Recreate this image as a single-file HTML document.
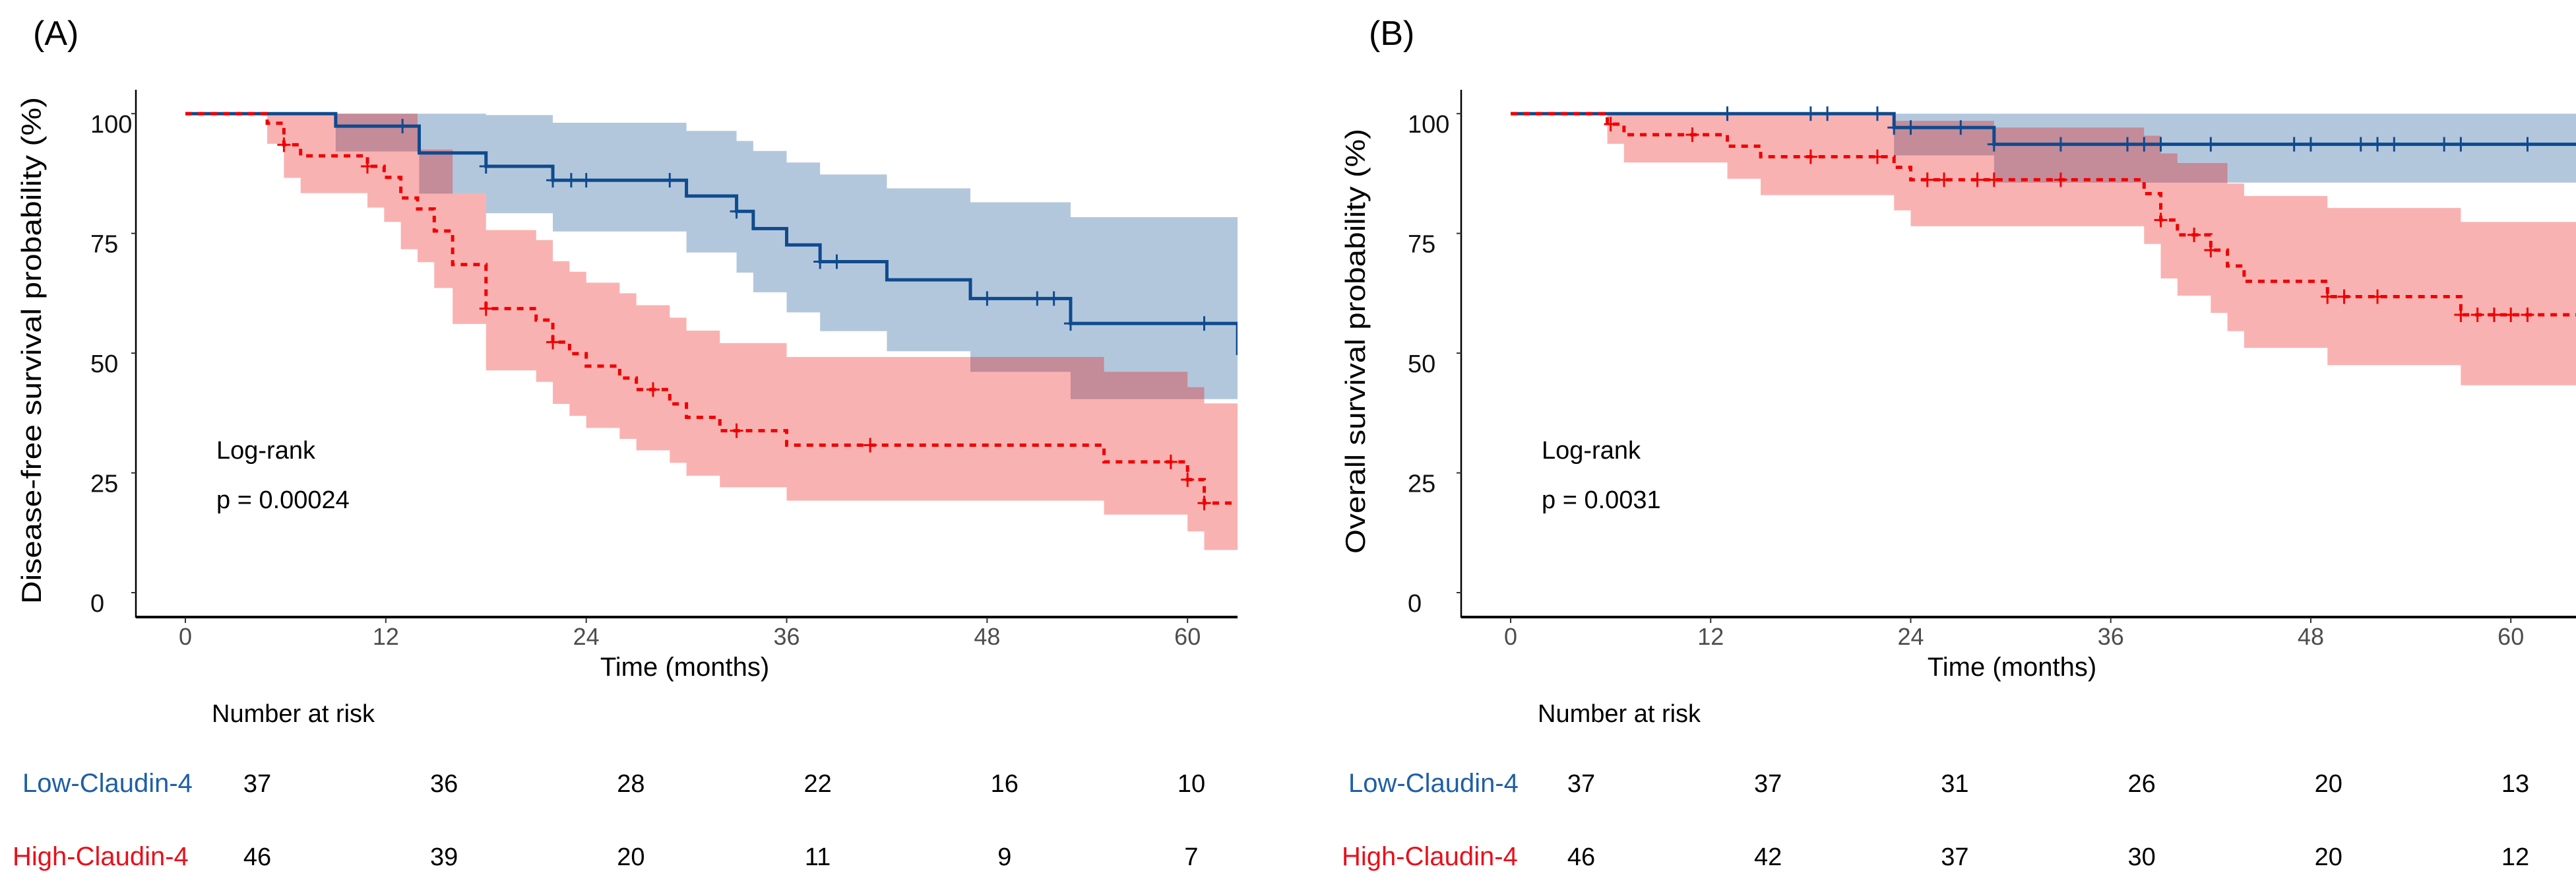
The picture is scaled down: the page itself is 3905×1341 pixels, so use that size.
<!DOCTYPE html>
<html><head><meta charset="utf-8"><style>
html,body{margin:0;padding:0;background:#fff;}
svg{display:block;font-family:"Liberation Sans",Arial,sans-serif;}
</style></head><body>
<svg id="chart" width="3905" height="1341" viewBox="0 0 3905 1341" xmlns="http://www.w3.org/2000/svg">
<rect width="3905" height="1341" fill="#fff"/>
<g id="root"></g>
</svg>
<script>
// ===== Data =====
const xTicks = [0,12,24,36,48,60];
const yTicks = [0,25,50,75,100];
// Panel A (DFS)
const aBlueT = [0,9,14,18,22,30,33,34,36,38,42,47,53,63];
const aBlueS = [100,97.4,91.8,89.0,86.1,82.8,79.6,76.0,72.6,69.1,65.3,61.4,56.2,49.6];
const aBlueBandT = [0,9,14,18,22,30,33,34,36,38,42,47,53];
const aBlueUp = [100,100,100,99.7,98.1,96.4,94.3,92.2,89.8,87.3,84.4,81.5,78.4];
const aBlueLo = [100,92.1,83.3,79.2,75.4,71.0,66.8,62.7,58.5,54.6,50.4,46.1,40.4];
const aBlueCens = [13,18,22,23.1,24,29,33,38,39,48,51,52,53,61];
const aRedT = [0,4.9,5.9,6.9,10.9,11.9,12.9,13.9,14.9,16,18,21,22,23,24,26,27,29,30,32,36,55,60,61];
const aRedS = [100,98.0,93.5,91.2,89.0,86.7,82.4,80.1,75.5,68.5,59.3,56.9,52.3,49.9,47.3,44.8,42.4,39.4,36.6,33.8,30.8,27.3,23.6,18.7];
const aRedUp = [100,100,100,100,100,100,100,92.5,92.5,83.3,75.7,73.6,69.2,67.0,64.7,62.5,60.0,57.4,54.7,52.1,49.2,46.1,42.9,39.5];
const aRedLo = [100,93.7,86.6,83.4,80.4,77.4,71.7,69.0,63.6,56.1,46.4,44.0,39.4,36.9,34.4,32.1,29.7,27.1,24.4,22.0,19.2,16.3,12.8,8.9];
const aRedCens = [5.9,10.9,18,22,28,33,41,59,60,61];
const aRiskLow = [37,36,28,22,16,10];
const aRiskHigh = [46,39,20,11,9,7];
// Panel B (OS)
const bBlueT = [0,23,29];
const bBlueS = [100,97.1,93.6];
const bBlueUp = [100,100,100];
const bBlueLo = [100,91.3,85.6];
const bBlueCens = [13,18,19,22,23,24,27,29,33,37,38,39,42,47,48,51,52,53,56,57,61];
const bRedT = [0,5.8,6.8,13,15,23,24,29,38,39,40,42,43,44,49,57];
const bRedS = [100,97.8,95.6,93.2,91.0,88.8,86.2,86.2,83.3,77.8,74.7,71.5,68.2,65.0,61.8,58.0];
const bRedUp = [100,100,100,100,100,98.5,98.5,97.1,95.4,91.7,89.7,89.7,85.4,82.8,80.3,77.4];
const bRedLo = [100,93.7,89.8,86.4,83.0,79.8,76.5,76.5,72.8,65.6,62.0,58.4,54.6,51.1,47.5,43.3];
const bRedCens = [6,10.9,18,22,25,26,28,29,33,39,41,42,49,50,52,57,58,59,60,61];
const bRiskLow = [37,37,31,26,20,13];
const bRiskHigh = [46,42,37,30,20,12];

// ===== Drawing =====
const NS = "http://www.w3.org/2000/svg";
const root = document.getElementById('root');
function el(tag, attrs, parent, text){
  const e = document.createElementNS(NS, tag);
  for (const k in attrs) e.setAttribute(k, attrs[k]);
  if (text !== undefined) e.textContent = text;
  (parent||root).appendChild(e);
  return e;
}
const sy = p => 898 - p*(898-172.2)/100;
const BLUE = "#0f4a8e", RED = "#f00000";

function stepPath(sx, T, S, end){
  let d = "M"+sx(T[0])+","+sy(S[0]);
  for (let i=1;i<T.length;i++) d += " H"+sx(T[i])+" V"+sy(S[i]);
  d += " H"+sx(end);
  return d;
}
function bandPath(sx, T, U, L, end){
  let d = "M"+sx(T[0])+","+sy(U[0]);
  for (let i=1;i<T.length;i++) d += " H"+sx(T[i])+" V"+sy(U[i]);
  d += " H"+sx(end)+" V"+sy(L[L.length-1]);
  for (let i=T.length-1;i>=1;i--) d += " H"+sx(T[i])+" V"+sy(L[i-1]);
  d += " H"+sx(T[0])+" Z";
  return d;
}
function valAt(T,S,m){ let v=S[0]; for(let i=0;i<T.length;i++) if(T[i]<=m+1e-9) v=S[i]; return v; }

function panel(o){
  const g = el('g', {});
  
  
  const sx = m => o.x0 + m*o.pxPerMonth;
  // clip
  const cid = o.name+'-clip';
  const defs = el('defs', {}, g);
  const cp = el('clipPath', {id:cid}, defs);
  el('rect', {x:o.axisX, y:130, width:o.clipR-o.axisX, height:805}, cp);
  const pg = el('g', {'clip-path':'url(#'+cid+')'}, g);
  // bands
  const bb = el('path', {d:bandPath(sx,o.blueBandT,o.blueUp,o.blueLo,o.end), fill:"#b3c7dc", stroke:"none"}, pg);
  
  
  const rb = el('path', {d:bandPath(sx,o.redT,o.redUp,o.redLo,o.end), fill:"rgba(235,0,0,0.3)", stroke:"none"}, pg);
  
  
  // curves
  const bl = el('path', {d:stepPath(sx,o.blueT,o.blueS,o.end), fill:"none", stroke:BLUE, 'stroke-width':5}, pg);
  
  
  const rl = el('path', {d:stepPath(sx,o.redT,o.redS,o.end), fill:"none", stroke:RED, 'stroke-width':5, 'stroke-dasharray':'10 9'}, pg);
  
  
  // censor marks
  o.blueCens.forEach(m=>{
    const x=sx(m), y=sy(valAt(o.blueT,o.blueS,m));
    const c = el('path', {d:"M"+(x-10)+","+y+" H"+(x+10)+" M"+x+","+(y-11)+" V"+(y+11), stroke:BLUE, 'stroke-width':3}, pg);
    
    
  });
  o.redCens.forEach(m=>{
    const x=sx(m), y=sy(valAt(o.redT,o.redS,m));
    const c = el('path', {d:"M"+(x-10)+","+y+" H"+(x+10)+" M"+x+","+(y-11)+" V"+(y+11), stroke:RED, 'stroke-width':3}, pg);
    
    
  });
  // axes
  const ya = el('line', {x1:o.axisX, y1:136, x2:o.axisX, y2:936, stroke:"#000", 'stroke-width':2.5}, g);
  
  
  const xa = el('line', {x1:o.axisX, y1:935, x2:o.clipR, y2:935, stroke:"#000", 'stroke-width':4}, g);
  
  
  xTicks.forEach(t=>{
    const x=sx(t);
    el('line', {x1:x,y1:936,x2:x,y2:944,stroke:"#333",'stroke-width':2}, g);
    const tl = el('text', {x:x, y:977, 'text-anchor':'middle', 'font-size':36, fill:'#4d4d4d'}, g, String(t));
    
    
  });
  yTicks.forEach(t=>{
    const y=sy(t);
    el('line', {x1:o.axisX-7,y1:y,x2:o.axisX,y2:y,stroke:"#333",'stroke-width':2}, g);
    const tl = el('text', {x:o.yLabX, y:y+29, 'font-size':38, fill:'#111'}, g, String(t));
    
    
  });
  const xt = el('text', {x:o.xTitleX, y:1024, 'text-anchor':'middle', 'font-size':40, fill:'#000'}, g, 'Time (months)');
  
  
  const yt = el('text', {x:0, y:0, 'text-anchor':'middle', 'font-size':42, fill:'#000', textLength:o.yTitleLen, lengthAdjust:'spacingAndGlyphs', transform:'translate('+(o.yTitleX+15)+','+o.yTitleY+') rotate(-90)'}, g, o.yTitle);
  
  
  const pl = el('text', {x:o.plx, y:68, 'font-size':52, fill:'#000'}, g, o.panelLabel);
  
  
  const lr = el('text', {x:o.logX, y:695, 'font-size':38, fill:'#000'}, g, 'Log-rank');
  
  
  const pv = el('text', {x:o.logX, y:770, 'font-size':38, fill:'#000'}, g, o.pText);
  
  
  // risk table
  const nr = el('text', {x:o.nrX, y:1094, 'font-size':38, fill:'#000'}, g, 'Number at risk');
  
  
  const ll = el('text', {x:o.lowLabX, y:1200, 'font-size':40, fill:'#1f5fa5'}, g, 'Low-Claudin-4');
  
  
  const hl = el('text', {x:o.highLabX, y:1311, 'font-size':40, fill:'#e8101a'}, g, 'High-Claudin-4');
  
  
  o.riskLow.forEach((v,i)=>{
    const t = el('text', {x:o.riskX0+i*283.2, y:1200, 'text-anchor':'middle','font-size':38, fill:'#000'}, g, String(v));
    
    
  });
  o.riskHigh.forEach((v,i)=>{
    const t = el('text', {x:o.riskX0+i*283.2, y:1311, 'text-anchor':'middle','font-size':38, fill:'#000'}, g, String(v));
    
    
  });
}

panel({name:'panel-a', x0:281, pxPerMonth:25.32, axisX:206, clipR:1876, end:63,
  blueT:aBlueT, blueS:aBlueS, blueBandT:aBlueBandT, blueUp:aBlueUp, blueLo:aBlueLo, blueCens:aBlueCens,
  redT:aRedT, redS:aRedS, redUp:aRedUp, redLo:aRedLo, redCens:aRedCens,
  yLabX:137, xTitleX:1038, yTitle:'Disease-free survival probability (%)', yTitleX:47, yTitleY:531, yTitleLen:768,
  plx:50, panelLabel:'(A)', logX:328, pText:'p = 0.00024', nrX:321, lowLabX:34, highLabX:19,
  riskX0:390, riskLow:aRiskLow, riskHigh:aRiskHigh});
panel({name:'panel-b', x0:2290, pxPerMonth:25.27, axisX:2215, clipR:3905, end:64,
  blueT:bBlueT, blueS:bBlueS, blueBandT:bBlueT, blueUp:bBlueUp, blueLo:bBlueLo, blueCens:bBlueCens,
  redT:bRedT, redS:bRedS, redUp:bRedUp, redLo:bRedLo, redCens:bRedCens,
  yLabX:2134, xTitleX:3050, yTitle:'Overall survival probability (%)', yTitleX:2054, yTitleY:517, yTitleLen:644,
  plx:2075, panelLabel:'(B)', logX:2337, pText:'p = 0.0031', nrX:2331, lowLabX:2044, highLabX:2034,
  riskX0:2397, riskLow:bRiskLow, riskHigh:bRiskHigh});
</script>
</body></html>
